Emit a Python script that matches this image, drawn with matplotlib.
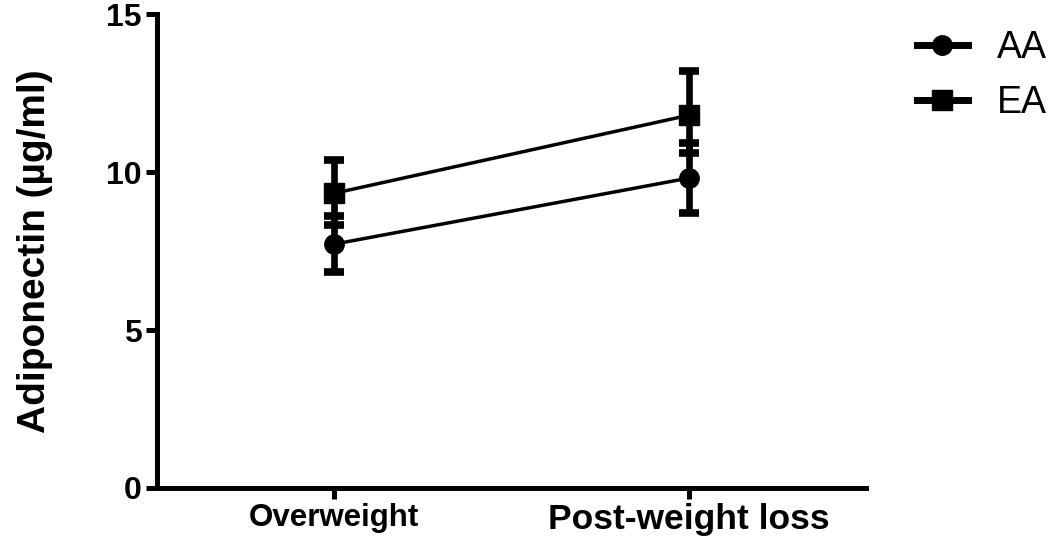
import matplotlib
matplotlib.use("Agg")
import matplotlib.pyplot as plt
from matplotlib.lines import Line2D
import numpy as np

categories = ["Overweight", "Post-weight loss"]
aa_mean = [7.72, 9.81]
aa_err_low = [0.88, 1.10]
aa_err_high = [0.88, 1.10]
ea_mean = [9.33, 11.80]
ea_err_low = [1.00, 1.20]
ea_err_high = [1.05, 1.40]
yticks = [0, 5, 10, 15]

plt.rcParams['font.family'] = ['Liberation Sans', 'DejaVu Sans']

fig = plt.figure(figsize=(10.5, 5.43), dpi=100)
ax = fig.add_axes([0.1495, 0.1013, 0.6755, 0.8727])

x = np.arange(len(categories))
common = dict(color='black', lw=2.5, elinewidth=4.8, capsize=7.5, capthick=5.5,
              markersize=14, clip_on=False)
ax.errorbar(x, aa_mean, yerr=[aa_err_low, aa_err_high], marker='o', label='AA', zorder=3, **common)
ax.errorbar(x, ea_mean, yerr=[ea_err_low, ea_err_high], marker='s', label='EA', zorder=3, **common)

ax.set_xlim(-0.5, 1.5)
ax.set_ylim(0, 15)
ax.set_xticks(x)
ax.set_xticklabels(categories, fontweight='bold')
for lab, fs in zip(ax.get_xticklabels(), [22.5, 25.5]):
    lab.set_fontsize(fs)
ax.set_yticks(yticks)
ax.set_yticklabels([str(t) for t in yticks], fontsize=23, fontweight='bold')
ax.set_ylabel("Adiponectin (µg/ml)", fontsize=28, fontweight='bold')
ax.yaxis.set_label_coords(-0.147, 0.5)

for s in ['top', 'right']:
    ax.spines[s].set_visible(False)
for s in ['left', 'bottom']:
    ax.spines[s].set_linewidth(3.6)
ax.tick_params(axis='both', width=3.6, length=8, pad=3)

labels = ['AA', 'EA']
h = [Line2D([], [], color='black', lw=5, marker=m, markersize=14) for m in ['o', 's']]
leg = fig.legend(h, labels, loc='upper left', bbox_to_anchor=(0.8733, 0.945), frameon=False,
                 fontsize=27, handlelength=1.36, labelspacing=0.52, handletextpad=0.77,
                 borderpad=0, borderaxespad=0)

fig.savefig("out.png", dpi=100)
